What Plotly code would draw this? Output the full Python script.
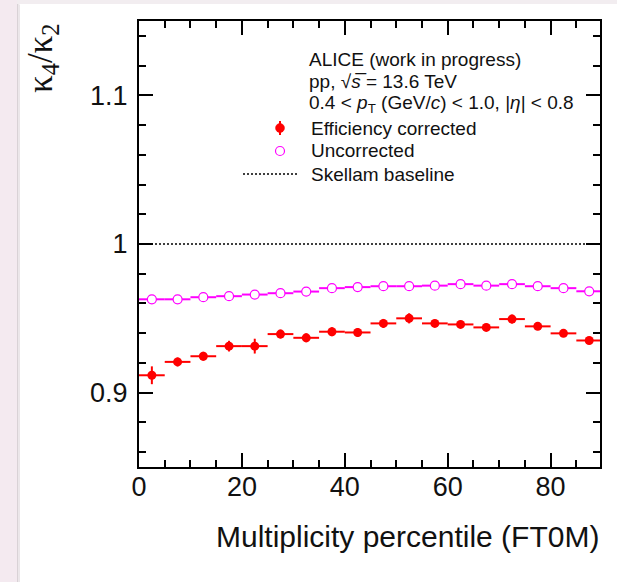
import plotly.graph_objects as go

# Multiplicity percentile bins (FT0M), centres and half-widths
bin_centres = [2.5, 7.5, 12.5, 17.5, 22.5, 27.5, 32.5, 37.5, 42.5,
               47.5, 52.5, 57.5, 62.5, 67.5, 72.5, 77.5, 82.5, 87.5]
bin_half_width = [2.5] * len(bin_centres)

# kappa4 / kappa2, efficiency corrected
corrected = [0.9117, 0.9207, 0.9245, 0.9313, 0.9313, 0.9394, 0.9369, 0.9410, 0.9405,
             0.9466, 0.9500, 0.9466, 0.9459, 0.9439, 0.9495, 0.9446, 0.9399, 0.9351]
corrected_err = [0.0060, 0.0030, 0.0030, 0.0036, 0.0050, 0.0030, 0.0030, 0.0030, 0.0030,
                 0.0030, 0.0034, 0.0025, 0.0025, 0.0025, 0.0030, 0.0025, 0.0025, 0.0025]

# kappa4 / kappa2, uncorrected
uncorrected = [0.9628, 0.9628, 0.9642, 0.9649, 0.9660, 0.9669, 0.9680, 0.9703, 0.9710,
               0.9716, 0.9716, 0.9720, 0.9730, 0.9720, 0.9730, 0.9716, 0.9703, 0.9682]
uncorrected_err = [0.0008] * len(bin_centres)

# Skellam baseline
baseline_x = [0, 90]
baseline_y = [1, 1]

legend_labels = ["Efficiency corrected", "Uncorrected", "Skellam baseline"]

FONT = "Liberation Sans, Arial, Helvetica, sans-serif"
RED = "#ff0000"
MAGENTA = "#ff00ff"

fig = go.Figure()

fig.add_trace(go.Scatter(
    x=baseline_x, y=baseline_y, mode="lines", name=legend_labels[2],
    line=dict(color="black", width=1.5, dash="2px,2px"),
))

fig.add_trace(go.Scatter(
    x=bin_centres, y=uncorrected, mode="markers", name=legend_labels[1],
    marker=dict(symbol="circle", size=9, color="white",
                line=dict(color=MAGENTA, width=1.2)),
    error_x=dict(type="data", array=bin_half_width, color=MAGENTA, thickness=2, width=0),
    error_y=dict(type="data", array=uncorrected_err, color=MAGENTA, thickness=1.5, width=0),
))

fig.add_trace(go.Scatter(
    x=bin_centres, y=corrected, mode="markers", name=legend_labels[0],
    marker=dict(symbol="circle", size=9, color=RED),
    error_x=dict(type="data", array=bin_half_width, color=RED, thickness=2, width=0),
    error_y=dict(type="data", array=corrected_err, color=RED, thickness=2, width=0),
))

axis_common = dict(
    showline=True, linecolor="black", linewidth=2, mirror="ticks",
    ticks="inside", tickcolor="black", tickwidth=1.5, ticklen=14,
    showgrid=False, zeroline=False,
    tickfont=dict(family=FONT, size=27, color="#111111"),
)

fig.update_xaxes(
    range=[0, 89.6], dtick=20, tick0=0,
    minor=dict(dtick=5, ticks="inside", ticklen=7, tickwidth=1.5, tickcolor="black", showgrid=False),
    ticklabelstandoff=-5,
    **axis_common,
)
fig.update_yaxes(
    range=[0.85, 1.15], dtick=0.1, tick0=0.9,
    minor=dict(dtick=0.02, ticks="inside", ticklen=7, tickwidth=1.5, tickcolor="black", showgrid=False),
    ticklabelstandoff=4,
    **axis_common,
)

W, H = 617, 582
L, R, T, B = 139, 17, 21, 115
pw, ph = W - L - R, H - T - B


def px(x):
    return (x - L) / pw


def py(y):
    return (H - B - y) / ph


def rect(x0, x1, y0, y1, color):
    return dict(type="rect", xref="paper", yref="paper",
                x0=px(x0), x1=px(x1), y0=py(y1), y1=py(y0),
                fillcolor=color, line=dict(width=0), layer="below")


# slide background: pink margin on the left, thin band on top, soft shadow edge
shapes = [
    rect(-2, 17, -2, H + 2, "#f4eaf0"),
    rect(17, 18.5, 4, H + 2, "#d9d2d6"),
    rect(18.5, 20, 4.5, H + 2, "#ebe6e9"),
    rect(17, W + 2, -2, 4, "#f2edf0"),
]

# hand-built legend keys
leg_x, leg_y = 280, [128, 151, 174]
r = 4.5
shapes += [
    dict(type="line", xref="paper", yref="paper", x0=px(leg_x), x1=px(leg_x),
         y0=py(leg_y[0] + 7), y1=py(leg_y[0] - 7), line=dict(color=RED, width=2)),
    dict(type="circle", xref="paper", yref="paper", x0=px(leg_x - r), x1=px(leg_x + r),
         y0=py(leg_y[0] + r), y1=py(leg_y[0] - r), fillcolor=RED, line=dict(color=RED, width=0.5)),
    dict(type="circle", xref="paper", yref="paper", x0=px(leg_x - r), x1=px(leg_x + r),
         y0=py(leg_y[1] + r), y1=py(leg_y[1] - r), fillcolor="white", line=dict(color=MAGENTA, width=1.2)),
    dict(type="line", xref="paper", yref="paper", x0=px(243), x1=px(298),
         y0=py(leg_y[2]), y1=py(leg_y[2]), line=dict(color="black", width=1.5, dash="2px,2px")),
]

header = [
    "ALICE (work in progress)",
    "pp, √<i>s</i>\u0305 = 13.6 TeV",
    "0.4 &lt; <i>p</i><sub>T</sub> (GeV/<i>c</i>) &lt; 1.0, |<i>η</i>| &lt; 0.8",
]
header_y = [59, 82, 104]

annotations = []
for txt, yy in zip(header, header_y):
    annotations.append(dict(
        text=txt, xref="paper", yref="paper", x=px(307), y=py(yy),
        xanchor="left", yanchor="middle", showarrow=False,
        font=dict(family=FONT, size=19, color="#111111"),
    ))

for txt, yy in zip(legend_labels, leg_y):
    annotations.append(dict(
        text=txt, xref="paper", yref="paper", x=px(309), y=py(yy),
        xanchor="left", yanchor="middle", showarrow=False,
        font=dict(family=FONT, size=19, color="#111111"),
    ))

annotations.append(dict(
    text="Multiplicity percentile (FT0M)", xref="paper", yref="paper",
    x=px(601), y=py(536), xanchor="right", yanchor="middle", showarrow=False,
    font=dict(family=FONT, size=30, color="#111111"),
))

annotations.append(dict(
    text="κ<sub>4</sub>/κ<sub>2</sub>", xref="paper", yref="paper",
    x=px(42), y=py(21), xanchor="center", yanchor="top", textangle=-90, showarrow=False,
    font=dict(family="Liberation Serif, Times New Roman, serif", size=35, color="#111111"),
))

fig.update_layout(
    width=W, height=H,
    margin=dict(l=L, r=R, t=T, b=B),
    paper_bgcolor="white",
    plot_bgcolor="white",
    font=dict(family=FONT, color="#111111"),
    shapes=shapes,
    annotations=annotations,
    showlegend=False,
)

fig.write_html("out.html")
